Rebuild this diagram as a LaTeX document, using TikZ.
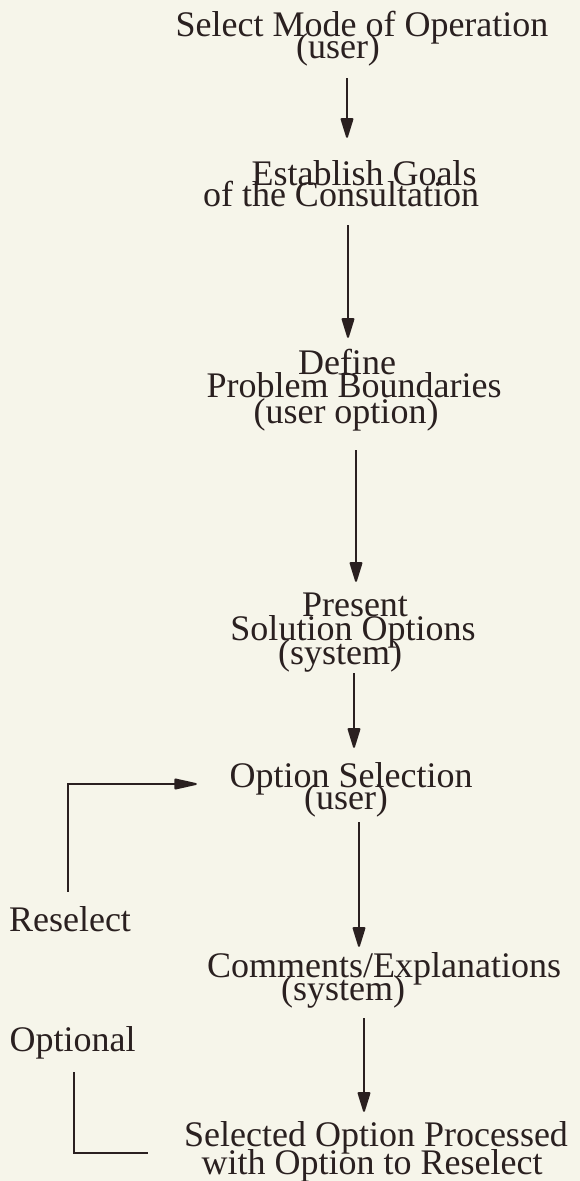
\documentclass[tikz,border=0pt]{standalone}
\usepackage{fontspec}
\setmainfont{Liberation Serif}
\usetikzlibrary{arrows.meta}
\definecolor{paper}{RGB}{246,245,234}
\definecolor{ink}{RGB}{42,32,32}
\tikzset{
  line/.style={anchor=base, inner sep=0pt, text height=25pt, text depth=8pt,
    text=ink, font=\fontsize{36}{22}\selectfont},
  flow/.style={draw=ink, line width=1.9pt,
    -{Triangle[length=22pt,width=13pt,round]}},
  bracket/.style={draw=ink, line width=1.9pt}
}
\begin{document}
\begin{tikzpicture}[x=1pt,y=-1pt]
  % page
  \fill[paper] (0,0) rectangle (580,1181);
  \useasboundingbox (0,0) rectangle (580,1181);

  % steps, one node per printed line
  \node[line] (mode)     at (362,36)   {Select Mode of Operation};
  \node[line] (modeU)    at (338,58)   {(user)};
  \node[line] (goals)    at (364,185)  {Establish Goals};
  \node[line] (goalsB)   at (341,206)  {of the Consultation};
  \node[line] (def)      at (347,374)  {Define};
  \node[line] (defB)     at (354,397)  {Problem Boundaries};
  \node[line] (defC)     at (346,423)  {(user option)};
  \node[line] (pres)     at (355,616)  {Present};
  \node[line] (presB)    at (353,640)  {Solution Options};
  \node[line] (presC)    at (340,664)  {(system)};
  \node[line] (optsel)   at (351,787)  {Option Selection};
  \node[line] (optselU)  at (346,809)  {(user)};
  \node[line] (comm)     at (384,977)  {Comments/Explanations};
  \node[line] (commU)    at (343,1000) {(system)};
  \node[line] (proc)     at (376,1146) {Selected Option Processed};
  \node[line] (procB)    at (372,1174) {with Option to Reselect};

  % side labels
  \node[line] (reselect) at (70,931)   {Reselect};
  \node[line] (optional) at (72.5,1051) {Optional};

  % main flow
  \draw[flow, shorten <=12pt, shorten >=22pt]
    ([xshift=9pt]modeU.south) -- ([xshift=-17pt]goals.north);
  \draw[flow, shorten <=11pt, shorten >=11pt]
    ([xshift=7pt]goalsB.south) -- ([xshift=1pt]def.north);
  \draw[flow, shorten <=19pt, shorten >=9pt]
    ([xshift=10pt]defC.south) -- ([xshift=1pt]pres.north);
  \draw[flow, shorten <=1pt, shorten >=14pt]
    ([xshift=14pt]presC.south) -- ([xshift=3pt]optsel.north);
  \draw[flow, shorten <=5pt, shorten >=5pt]
    ([xshift=13pt]optselU.south) -- ([xshift=-25pt]comm.north);
  \draw[flow, shorten <=10pt, shorten >=9pt]
    ([xshift=21pt]commU.south) -- ([xshift=-12pt]proc.north);

  % loop back for reselection
  \draw[flow, -{Triangle[length=26pt,width=11pt,round]}, shorten <=14pt, shorten >=32.5pt]
    ([xshift=-2pt]reselect.north) |- ([yshift=-5.5pt]optsel.west);

  % optional bracket
  \draw[bracket, shorten <=13pt, shorten >=36pt]
    ([xshift=1.5pt]optional.south) |- ([yshift=-15.5pt]proc.west);
\end{tikzpicture}
\end{document}
